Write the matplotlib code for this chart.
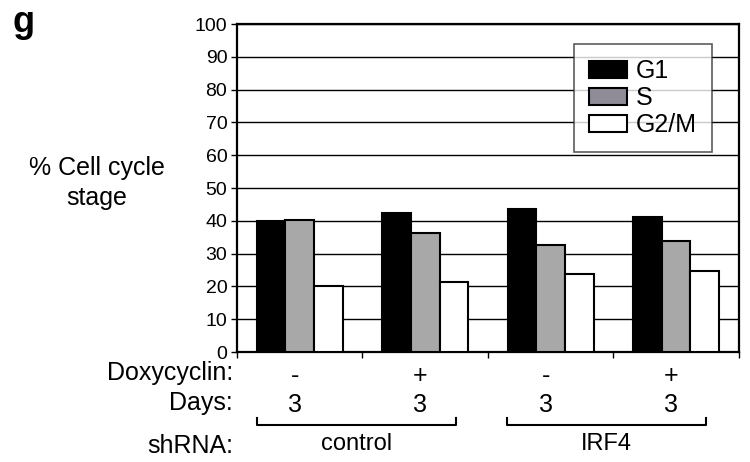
import numpy as np
import matplotlib
matplotlib.use("Agg")
import matplotlib.pyplot as plt
from matplotlib.patches import Patch

plt.rcParams['font.family'] = ['Liberation Sans', 'DejaVu Sans']

# data
phases = ['G1', 'S', 'G2/M']
g1 = [40.0, 42.4, 43.6, 41.2]
s_phase = [40.2, 36.4, 32.6, 34.0]
g2m = [20.0, 21.4, 23.7, 24.7]
doxy = ['-', '+', '-', '+']
days = ['3', '3', '3', '3']
shrna = ['control', 'IRF4']

bar_colors = ['black', '#a8a8a8', 'white']
legend_colors = ['black', '#8f8c98', 'white']

fig = plt.figure(figsize=(7.5, 4.62), dpi=100)
ax = fig.add_axes([0.316, 0.238, 0.669, 0.71])

x = np.arange(len(g1))
w = 0.229
for i, vals in enumerate([g1, s_phase, g2m]):
    ax.bar(x + (i - 1) * w, vals, w, color=bar_colors[i], edgecolor='black',
           linewidth=1.5, zorder=3)

ax.set_xlim(-0.5, 3.5)
ax.set_ylim(0, 100)
ax.set_yticks(np.arange(0, 101, 10))
ax.yaxis.grid(True, color='black', linewidth=1, zorder=0)
ax.set_xticks(np.arange(-0.5, 3.6, 1))
ax.set_xticklabels([])
ax.tick_params(axis='y', direction='out', length=4, width=1, labelsize=14, pad=3)
ax.tick_params(axis='x', direction='out', length=4, width=1)
for sp in ax.spines.values():
    sp.set_linewidth(1.6)

handles = [Patch(facecolor=legend_colors[i], edgecolor='black', linewidth=1.5,
                 label=phases[i]) for i in range(3)]
leg = ax.legend(handles=handles, loc='upper right', bbox_to_anchor=(0.946, 0.939),
                fontsize=18, frameon=True, fancybox=False, handlelength=1.5,
                handleheight=0.7, labelspacing=0.12, handletextpad=0.35,
                borderpad=0.6, borderaxespad=0)
leg.get_frame().set_edgecolor('#333333')
leg.get_frame().set_linewidth(1.2)
leg.set_zorder(5)

fig.text(0.016, 1 - 32 / 462, 'g', fontsize=26, fontweight='bold', va='baseline')
fig.text(97 / 750, 1 - 183 / 462, '% Cell cycle\nstage', fontsize=18, ha='center',
         va='center', linespacing=1.35)

# row labels under the axis
trans = ax.get_xaxis_transform()
for i in range(len(doxy)):
    ax.text(x[i] - 0.04, -0.073, doxy[i], transform=trans, ha='center',
            va='center', fontsize=18, clip_on=False)
    ax.text(x[i] - 0.04, -0.162, days[i], transform=trans, ha='center',
            va='center', fontsize=18, clip_on=False)

fig.text(233 / 750, 1 - 373 / 462, 'Doxycyclin:', fontsize=18, ha='right', va='center')
fig.text(233 / 750, 1 - 403 / 462, 'Days:', fontsize=18, ha='right', va='center')
fig.text(233 / 750, 1 - 446 / 462, 'shRNA:', fontsize=18, ha='right', va='center')

# brackets under each shRNA pair
brackets = [(-0.34, 1.245), (1.65, 3.24)]
for (a, b), name in zip(brackets, shrna):
    ax.plot([a, a, b, b], [-0.201, -0.223, -0.223, -0.201], transform=trans,
            color='black', linewidth=1.5, clip_on=False)
    ax.text((a + b) / 2, -0.28, name, transform=trans, ha='center', va='center',
            fontsize=17, clip_on=False)

fig.savefig('out.png', dpi=100)
